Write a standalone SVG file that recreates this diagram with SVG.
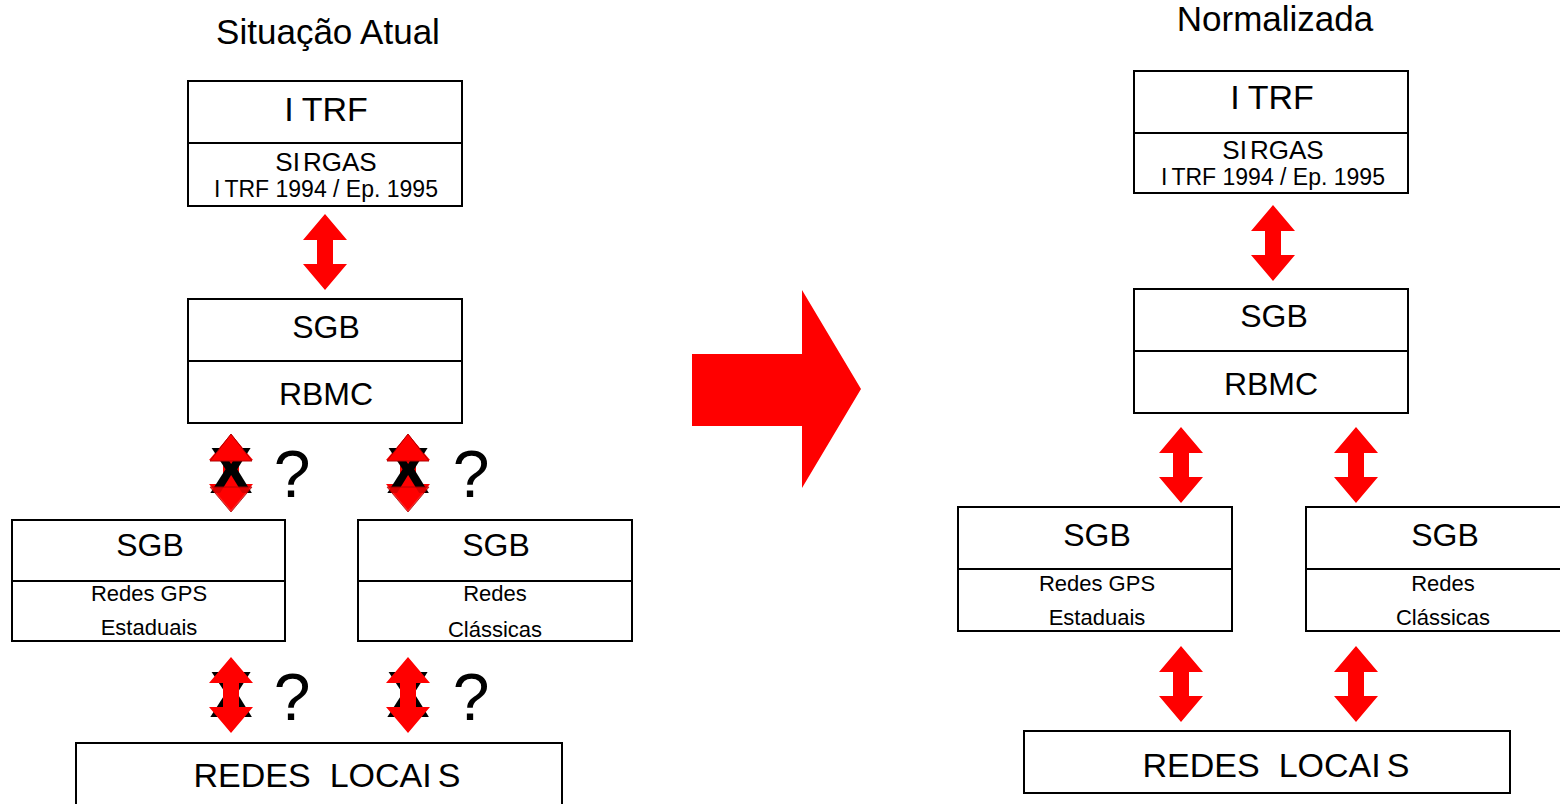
<svg xmlns="http://www.w3.org/2000/svg" xmlns:xlink="http://www.w3.org/1999/xlink" width="1560" height="804" viewBox="0 0 1560 804">
<style>
  .box { fill: #fff; stroke: #000; stroke-width: 2; }
  .div { stroke: #000; stroke-width: 2; }
  text { font-family: "Liberation Sans", Arial, sans-serif; fill: #000; text-anchor: middle; }
  .title { font-size: 35px; }
  .t34 { font-size: 34px; }
  .t32 { font-size: 32px; }
  .t26 { font-size: 26px; }
  .t23 { font-size: 23px; }
  .t22 { font-size: 22px; }
  .q { font-size: 66px; }
  .x { font-size: 64px; font-weight: bold; }
  .arr { fill: #ff0000; }
  .head { fill: #ff0000; stroke: #b00000; stroke-width: 1; }
</style>
<defs>
  <path id="darr" d="M0,-38 L22,-12 L8,-12 L8,12 L22,12 L0,38 L-22,12 L-8,12 L-8,-12 L-22,-12 Z"/>
  <path id="tophead" d="M0,-38 L21,-11 L-21,-11 Z"/>
  <path id="bothead" d="M-21,13 L21,13 L0,38 Z"/>
</defs>
<rect width="1560" height="804" fill="#fff"/>

<text class="title" x="328" y="44">Situação Atual</text>
<text class="title" x="1275" y="31">Normalizada</text>

<g id="connectors">
  <use href="#darr" class="arr" transform="translate(325,252)"/>
  <!-- crossed arrows, middle row -->
  <g>
    <use href="#darr" class="arr" transform="translate(231,472)"/>
    <text class="x" x="231" y="493">X</text>
    <use href="#tophead" class="head" transform="translate(231,472)"/>
    <use href="#bothead" class="head" transform="translate(231,474)" opacity="0.85"/>
  </g>
  <g>
    <use href="#darr" class="arr" transform="translate(408,472)"/>
    <text class="x" x="408" y="493">X</text>
    <use href="#tophead" class="head" transform="translate(408,472)"/>
    <use href="#bothead" class="head" transform="translate(408,474)" opacity="0.85"/>
  </g>
  <text class="q" x="292" y="497">?</text>
  <text class="q" x="471" y="497">?</text>
  <!-- crossed arrows, bottom row -->
  <g>
    <text class="x" x="231" y="717">X</text>
    <use href="#darr" class="arr" transform="translate(231,695)"/>
  </g>
  <g>
    <text class="x" x="408" y="717">X</text>
    <use href="#darr" class="arr" transform="translate(408,695)"/>
  </g>
  <text class="q" x="292" y="720">?</text>
  <text class="q" x="471" y="720">?</text>

  <!-- big transition arrow -->
  <path class="arr" d="M692,354 L802,354 L802,290 L861,389 L802,488 L802,426 L692,426 Z"/>

  <!-- right side arrows -->
  <use href="#darr" class="arr" transform="translate(1273,243)"/>
  <use href="#darr" class="arr" transform="translate(1181,465)"/>
  <use href="#darr" class="arr" transform="translate(1356,465)"/>
  <use href="#darr" class="arr" transform="translate(1181,684)"/>
  <use href="#darr" class="arr" transform="translate(1356,684)"/>
</g>

<!-- LEFT -->
<g id="l-itrf">
  <rect class="box" x="188" y="81" width="274" height="125"/>
  <line class="div" x1="188" y1="143" x2="462" y2="143"/>
  <text class="t34" x="326" y="121">I<tspan dx="8">TRF</tspan></text>
  <text class="t26" x="326" y="171">SI<tspan dx="3">RGAS</tspan></text>
  <text class="t23" x="326" y="197">I<tspan dx="4">TRF 1994 / Ep. 1995</tspan></text>
</g>
<g id="l-sgb">
  <rect class="box" x="188" y="299" width="274" height="124"/>
  <line class="div" x1="188" y1="361" x2="462" y2="361"/>
  <text class="t32" x="326" y="338">SGB</text>
  <text class="t32" x="326" y="405">RBMC</text>
</g>
<g id="l-gps">
  <rect class="box" x="12" y="520" width="273" height="121"/>
  <line class="div" x1="12" y1="581" x2="285" y2="581"/>
  <text class="t32" x="150" y="556">SGB</text>
  <text class="t22" x="149" y="601">Redes GPS</text>
  <text class="t22" x="149" y="635">Estaduais</text>
</g>
<g id="l-class">
  <rect class="box" x="358" y="520" width="274" height="121"/>
  <line class="div" x1="358" y1="581" x2="632" y2="581"/>
  <text class="t32" x="496" y="556">SGB</text>
  <text class="t22" x="495" y="601">Redes</text>
  <text class="t22" x="495" y="637">Clássicas</text>
</g>
<g id="l-locais">
  <rect class="box" x="76" y="743" width="486" height="70"/>
  <text class="t34" x="327" y="787">REDES<tspan dx="19">LOCAI</tspan><tspan dx="6">S</tspan></text>
</g>

<!-- RIGHT -->
<g id="r-itrf">
  <rect class="box" x="1134" y="71" width="274" height="122"/>
  <line class="div" x1="1134" y1="133" x2="1408" y2="133"/>
  <text class="t34" x="1272" y="109">I<tspan dx="8">TRF</tspan></text>
  <text class="t26" x="1273" y="159">SI<tspan dx="3">RGAS</tspan></text>
  <text class="t23" x="1273" y="185">I<tspan dx="4">TRF 1994 / Ep. 1995</tspan></text>
</g>
<g id="r-sgb">
  <rect class="box" x="1134" y="289" width="274" height="124"/>
  <line class="div" x1="1134" y1="351" x2="1408" y2="351"/>
  <text class="t32" x="1274" y="327">SGB</text>
  <text class="t32" x="1271" y="395">RBMC</text>
</g>
<g id="r-gps">
  <rect class="box" x="958" y="507" width="274" height="124"/>
  <line class="div" x1="958" y1="569" x2="1232" y2="569"/>
  <text class="t32" x="1097" y="546">SGB</text>
  <text class="t22" x="1097" y="591">Redes GPS</text>
  <text class="t22" x="1097" y="625">Estaduais</text>
</g>
<g id="r-class">
  <rect class="box" x="1306" y="507" width="270" height="124"/>
  <line class="div" x1="1306" y1="569" x2="1576" y2="569"/>
  <text class="t32" x="1445" y="546">SGB</text>
  <text class="t22" x="1443" y="591">Redes</text>
  <text class="t22" x="1443" y="625">Clássicas</text>
</g>
<g id="r-locais">
  <rect class="box" x="1024" y="731" width="486" height="62"/>
  <text class="t34" x="1276" y="777">REDES<tspan dx="19">LOCAI</tspan><tspan dx="6">S</tspan></text>
</g>
</svg>
